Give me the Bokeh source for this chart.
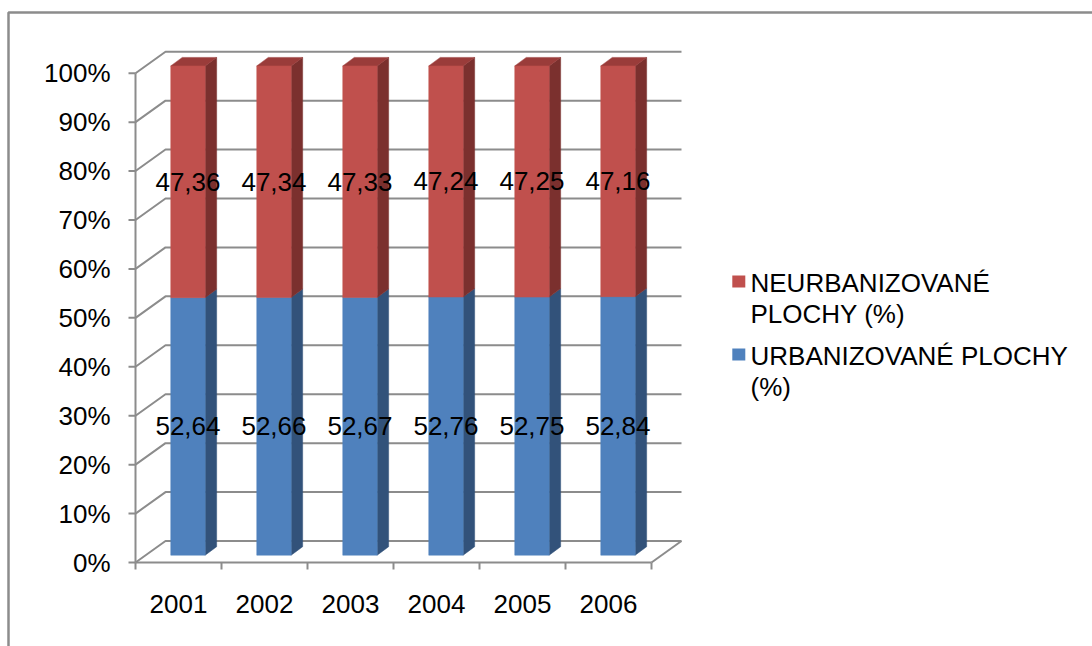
from bokeh.plotting import figure
from bokeh.models import Range1d, ColumnDataSource
from bokeh.core.properties import value
from bokeh.embed import file_html
from bokeh.resources import INLINE

# ---------------- data ----------------
years = ["2001", "2002", "2003", "2004", "2005", "2006"]
urban = [52.64, 52.66, 52.67, 52.76, 52.75, 52.84]
nonurban = [47.36, 47.34, 47.33, 47.24, 47.25, 47.16]
y_ticks = [0, 10, 20, 30, 40, 50, 60, 70, 80, 90, 100]
y_tick_labels = [f"{t}%" for t in y_ticks]
legend_nonurban = ["NEURBANIZOVANÉ", "PLOCHY (%)"]
legend_urban = ["URBANIZOVANÉ PLOCHY", "(%)"]

# ---------------- layout constants ----------------
W, H = 1092, 646
X0_PX, CAT_PX = 135, 86.0      # pixel of category origin, pixels per category
Y0_PX, PCT_PX = 562, 4.893     # pixel of 0 %, pixels per percent


def xd(px):
    return (px - X0_PX) / CAT_PX


def yd(py):
    return (Y0_PX - py) / PCT_PX


N = len(years)
WALL_DX = 30 / CAT_PX
WALL_DY = 21.5 / PCT_PX
BAR_L, BAR_R = 0.41, 0.81
BAR_DX = 11.5 / CAT_PX
BAR_DY = 8.5 / PCT_PX
LIFT = 7.3 / PCT_PX

FONT = value("Liberation Sans")
FS = "26px"
GRID_C = "#8c8c8c"
RED, RED_SIDE, RED_TOP = "#C0504D", "#7B302E", "#9A3C3A"
BLUE, BLUE_SIDE = "#4F81BD", "#32527A"

p = figure(width=W, height=H, x_range=Range1d(xd(0), xd(W)), y_range=Range1d(yd(H), yd(0)),
           output_backend="svg", toolbar_location=None, min_border=0,
           x_axis_location=None, y_axis_location=None)
p.grid.visible = False
p.outline_line_color = None
p.background_fill_color = "white"
p.border_fill_color = "white"

# outer border (top and left visible)
p.line([xd(8), xd(8), xd(W) + 1], [yd(H) - 1, yd(12), yd(12)], line_color=GRID_C, line_width=2.5)

# back-wall gridlines with floor/wall diagonals
gxs = [[0, WALL_DX, N + WALL_DX] for t in y_ticks]
gys = [[t, t + WALL_DY, t + WALL_DY] for t in y_ticks]
gxs.append([N, N + WALL_DX])
gys.append([0, WALL_DY])
p.multi_line(gxs, gys, line_color=GRID_C, line_width=2)

# axis lines and tick marks
p.line([0, 0], [0, 100], line_color=GRID_C, line_width=2)
p.line([0, N], [0, 0], line_color=GRID_C, line_width=2)
p.segment(x0=[0] * len(y_ticks), y0=y_ticks, x1=[xd(128)] * len(y_ticks), y1=y_ticks,
          line_color=GRID_C, line_width=2)
p.segment(x0=list(range(N + 1)), y0=[0] * (N + 1), x1=list(range(N + 1)), y1=[yd(569)] * (N + 1),
          line_color=GRID_C, line_width=2)

# axis labels
p.text(x=[xd(110)] * len(y_ticks), y=y_ticks, text=y_tick_labels, text_font=FONT,
       text_font_size=FS, text_align="right", text_baseline="middle", text_color="black")
p.text(x=[i + 0.5 for i in range(N)], y=[yd(603)] * N, text=years, text_font=FONT,
       text_font_size=FS, text_align="center", text_baseline="middle", text_color="black")

# 3D stacked bars
bottoms_u = [0] * N
tops_u = urban
bottoms_n = urban
tops_n = [u + n for u, n in zip(urban, nonurban)]


def side_patches(b, t):
    xs, ys = [], []
    for i in range(N):
        xr = i + BAR_R
        xs.append([xr, xr + BAR_DX, xr + BAR_DX, xr])
        ys.append([b[i] + LIFT, b[i] + LIFT + BAR_DY, t[i] + LIFT + BAR_DY, t[i] + LIFT])
    return xs, ys


sx, sy = side_patches(bottoms_u, tops_u)
p.patches(sx, sy, fill_color=BLUE_SIDE, line_color=BLUE_SIDE, line_width=0.5)
sx, sy = side_patches(bottoms_n, tops_n)
p.patches(sx, sy, fill_color=RED_SIDE, line_color=RED_SIDE, line_width=0.5)

txs, tys = [], []
for i in range(N):
    t = tops_n[i] + LIFT
    txs.append([i + BAR_L, i + BAR_R, i + BAR_R + BAR_DX, i + BAR_L + BAR_DX])
    tys.append([t, t, t + BAR_DY, t + BAR_DY])
p.patches(txs, tys, fill_color=RED_TOP, line_color=RED_TOP, line_width=0.5)

src = ColumnDataSource(dict(
    left=[i + BAR_L for i in range(N)], right=[i + BAR_R for i in range(N)],
    bu=[b + LIFT for b in bottoms_u], tu=[t + LIFT for t in tops_u],
    bn=[b + LIFT for b in bottoms_n], tn=[t + LIFT for t in tops_n],
))
p.quad(left="left", right="right", bottom="bu", top="tu", source=src,
       fill_color=BLUE, line_color=BLUE, line_width=0.5)
p.quad(left="left", right="right", bottom="bn", top="tn", source=src,
       fill_color=RED, line_color=RED, line_width=0.5)

# data labels
lab_x = [i + 0.61 for i in range(N)] * 2
lab_y = [(b + t) / 2 + LIFT for b, t in zip(bottoms_u, tops_u)] + \
        [(b + t) / 2 + LIFT for b, t in zip(bottoms_n, tops_n)]
lab_t = [f"{v:.2f}".replace(".", ",") for v in urban] + \
        [f"{v:.2f}".replace(".", ",") for v in nonurban]
p.text(x=lab_x, y=lab_y, text=lab_t, text_font=FONT, text_font_size=FS,
       text_align="center", text_baseline="middle", text_color="black")

# legend
p.rect(x=[xd(738.3)] * 2, y=[yd(281), yd(354)], width=13, height=12,
       width_units="screen", height_units="screen", fill_color=[RED, BLUE], line_color=None)
p.text(x=[xd(750)] * 4, y=[yd(282), yd(313), yd(355), yd(386)],
       text=legend_nonurban + legend_urban, text_font=FONT, text_font_size=FS,
       text_align="left", text_baseline="middle", text_color="black")

open("out.html", "w").write(file_html(p, INLINE))
